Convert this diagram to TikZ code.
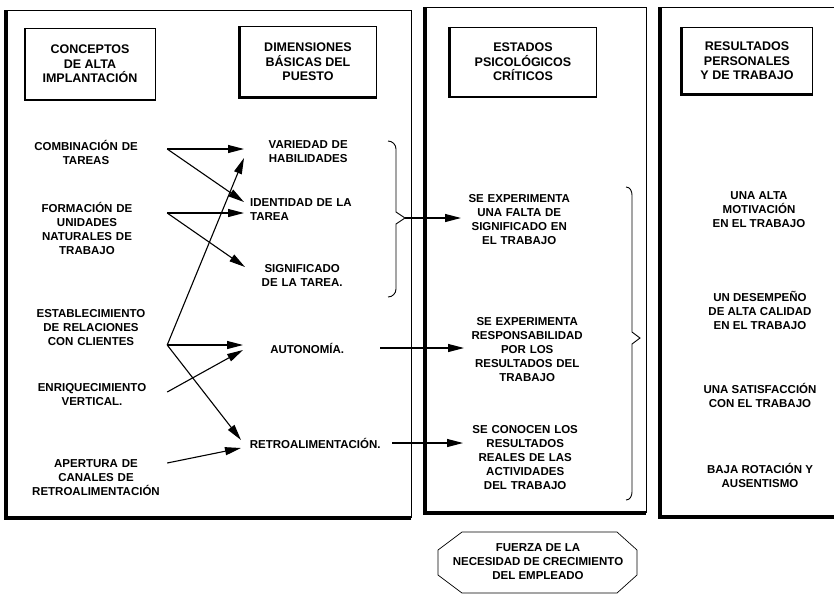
\documentclass[tikz,border=0pt]{standalone}
\usepackage{fontspec}
\setmainfont{Liberation Sans}
\usetikzlibrary{arrows.meta}

\begin{document}
\begin{tikzpicture}[x=1pt, y=-1pt,
    headnode/.style={draw, thin, align=center, inner sep=0pt, font=\bfseries\fontsize{12.5}{14.5}\selectfont},
    leftnode/.style={align=center, inner sep=0pt, font=\bfseries\fontsize{11.5}{14}\selectfont},
    midnode/.style={anchor=west, align=center, inner sep=0pt, font=\bfseries\fontsize{11.5}{14}\selectfont},
    resultnode/.style={align=center, inner sep=0pt, font=\bfseries\fontsize{11.5}{14}\selectfont},
    link/.style={-{Triangle[length=16pt,width=8pt]}, line width=1.1pt},
    bracket/.style={line width=0.9pt, line join=miter},
    frame/.style={line width=0.7pt},
    shadow/.style={line width=4pt}
]
\useasboundingbox (0,0) rectangle (834,595);

% panels
\draw[frame] (6,10) -- (411,10) -- (411,518);
\draw[shadow] (6,10) -- (6,518) -- (411,518);
\draw[frame] (425,7) -- (646,7) -- (646,513);
\draw[shadow] (425,7) -- (425,513) -- (646,513);
\draw[frame] (660,7) -- (834,7);
\draw[shadow] (660,7) -- (660,517) -- (834,517);

% headers
\node[headnode, minimum width=130pt, minimum height=72pt](hconc) at (90,64) {CONCEPTOS\\DE ALTA\\IMPLANTACIÓN};
\node[headnode, minimum width=137pt, minimum height=71pt](hdim) at (308,62) {DIMENSIONES\\BÁSICAS DEL\\PUESTO};
\node[headnode, minimum width=147pt, minimum height=70pt](hest) at (523,62) {ESTADOS\\PSICOLÓGICOS\\CRÍTICOS};
\node[headnode, minimum width=131pt, minimum height=67pt](hres) at (747,61) {RESULTADOS\\PERSONALES\\Y DE TRABAJO};
\draw[line width=2.5pt] (hconc.north west) -- (hconc.south west) -- (hconc.south east);
\draw[line width=2.5pt] (hdim.north west) -- (hdim.south west) -- (hdim.south east);
\draw[line width=2.5pt] (hest.north west) -- (hest.south west) -- (hest.south east);
\draw[line width=2.5pt] (hres.north west) -- (hres.south west) -- (hres.south east);

% conceptos
\node[leftnode, text width=162pt](comb) at (86,152) {COMBINACIÓN DE\\TAREAS};
\node[leftnode, text width=160pt](form) at (87,228) {FORMACIÓN DE\\UNIDADES\\NATURALES DE\\TRABAJO};
\node[leftnode, text width=152pt](estab) at (91,328) {ESTABLECIMIENTO\\DE RELACIONES\\CON CLIENTES};
\node[leftnode, text width=150pt](enriq) at (92,395) {ENRIQUECIMIENTO\\VERTICAL.};
\node[leftnode, text width=142pt](apert) at (96,478) {APERTURA DE\\CANALES DE\\RETROALIMENTACIÓN};

% dimensiones
\node[midnode, text width=128pt](varie) at (244,152) {VARIEDAD DE\\HABILIDADES};
\node[midnode, align=left, text width=116pt, inner xsep=6pt](ident) at (244,210) {IDENTIDAD DE LA\\TAREA};
\node[midnode, text width=114pt](signi) at (245,275) {SIGNIFICADO\\DE LA TAREA.};
\node[midnode, text width=128pt](auton) at (243,348) {AUTONOMÍA.};
\node[midnode, text width=148pt](retro) at (241,443) {RETROALIMENTACIÓN.};

% estados
\node[midnode, text width=116pt](falta) at (461,220) {SE EXPERIMENTA\\UNA FALTA DE\\SIGNIFICADO EN\\EL TRABAJO};
\node[midnode, text width=126pt](respo) at (464,350) {SE EXPERIMENTA\\RESPONSABILIDAD\\POR LOS\\RESULTADOS DEL\\TRABAJO};
\node[midnode, text width=124pt](conoc) at (463,458) {SE CONOCEN LOS\\RESULTADOS\\REALES DE LAS\\ACTIVIDADES\\DEL TRABAJO};

% resultados
\node[resultnode](motiv) at (759,210) {UNA ALTA\\MOTIVACIÓN\\EN EL TRABAJO};
\node[resultnode](desem) at (760,310) {UN DESEMPEÑO\\DE ALTA CALIDAD\\EN EL TRABAJO};
\node[resultnode](satis) at (760,395) {UNA SATISFACCIÓN\\CON EL TRABAJO};
\node[resultnode](rotac) at (760,475) {BAJA ROTACIÓN Y\\AUSENTISMO};

% fuerza
\draw[frame] (462,532) -- (617,532) -- (637,550) -- (637,575) -- (617,593) -- (462,593) -- (438,575) -- (438,550) -- cycle;
\node[resultnode](fuerza) at (538,562) {FUERZA DE LA\\NECESIDAD DE CRECIMIENTO\\DEL EMPLEADO};

% flechas
\draw[link] ([yshift=3pt]comb.east) -- ([yshift=3pt]varie.west);
\draw[link] ([yshift=3pt]comb.east) -- ([yshift=8pt]ident.west);
\draw[link] ([yshift=15pt]form.east) -- ([yshift=-3pt]ident.west);
\draw[link] ([yshift=15pt]form.east) -- ([yshift=8pt]signi.west);
\draw[link] ([yshift=-17pt]estab.east) -- ([yshift=-6pt]varie.west);
\draw[link] ([yshift=-17pt]estab.east) -- ([yshift=3pt]auton.west);
\draw[link] ([yshift=-17pt]estab.east) -- ([yshift=3pt]retro.west);
\draw[link] ([yshift=3pt]enriq.east) -- ([yshift=-2pt]auton.west);
\draw[link] ([yshift=15pt]apert.east) -- ([yshift=-5pt]retro.west);

% llaves
\draw[bracket] (388,141) to[out=0,in=90] (396,149) -- (396,212) -- (405,218) -- (396,224) -- (396,289) to[out=-90,in=0] (388,297);
\coordinate (llave) at (405,218);
\draw[link] (llave) -- (llave -| falta.west);
\draw[link] ([xshift=9pt]auton.east) -- (auton.east -| respo.west);
\draw[link] ([xshift=3pt]retro.east) -- (retro.east -| conoc.west);
\draw[bracket] (626,187) to[out=0,in=90] (632,195) -- (632,332) -- (640,338) -- (632,344) -- (632,492) to[out=-90,in=0] (626,500);
\end{tikzpicture}
\end{document}
